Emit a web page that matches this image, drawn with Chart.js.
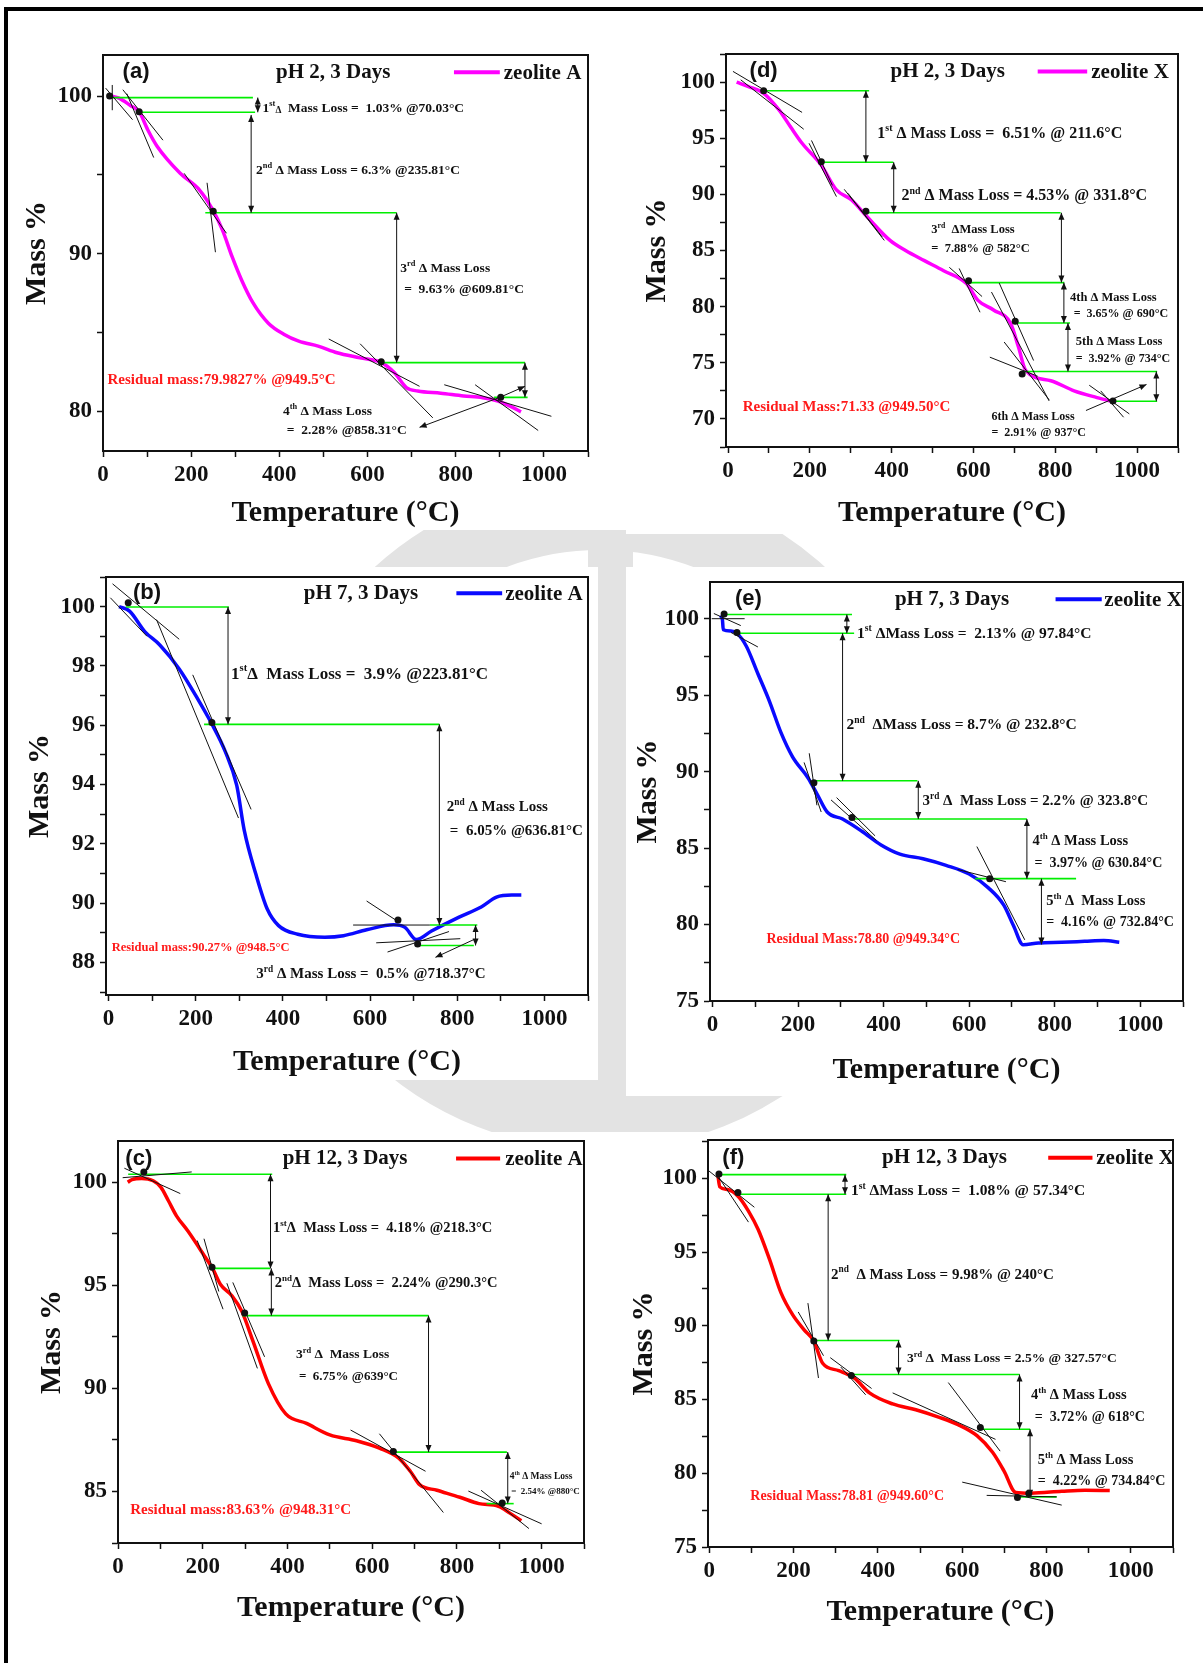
<!DOCTYPE html>
<html>
<head>
<meta charset="utf-8">
<title>TGA curves of zeolite A and X</title>
<script src="https://cdn.jsdelivr.net/npm/chart.js@4.4.1/dist/chart.umd.min.js"></script>
<style>
  body { margin: 0; background: #fff; }
  #page { position: relative; width: 1203px; height: 1663px; background: #fff; overflow: hidden; }
  .abs { position: absolute; }
  .ring { left: 265px; top: 480px; width: 530px; height: 530px; border: 70px solid #e3e3e3; border-radius: 50%; }
  .bar { left: 588px; top: 530px; width: 45px; height: 566px; background: #e3e3e3; }
  .white { background: #fff; }
</style>
</head>
<body>
<div id="page">
  <div class="abs ring"></div>
  <div class="abs bar"></div>
</div>
<script>
// TGA curves: temperature (°C) and mass (%)
const tA2  = [19, 36, 62, 82, 102, 123, 175, 219, 249, 271, 293, 314, 340, 375, 410, 444, 488, 531, 583, 631, 661, 688, 714, 766, 818, 861, 896, 922, 948];
const mA2  = [100.0, 99.87, 99.4, 99.0, 97.83, 96.8, 95.1, 94.04, 92.78, 91.5, 89.8, 88.36, 86.9, 85.6, 84.9, 84.46, 84.15, 83.73, 83.4, 83.1, 82.46, 81.52, 81.3, 81.16, 80.99, 80.88, 80.67, 80.36, 79.98];

const tX2  = [21, 50, 87, 125, 153, 181, 228, 265, 302, 340, 396, 434, 480, 527, 583, 611, 649, 691, 710, 728, 789, 846, 902, 944];
const mX2  = [100.0, 99.6, 99.0, 97.5, 96.0, 94.55, 92.6, 90.4, 89.5, 88.0, 85.9, 85.0, 84.1, 83.2, 82.05, 80.56, 79.7, 78.5, 76.4, 74.3, 73.4, 72.5, 71.9, 71.5];

const tA7  = [24, 48, 83, 118, 162, 206, 237, 268, 294, 311, 338, 364, 390, 434, 496, 539, 592, 654, 680, 706, 741, 803, 855, 890, 925, 947];
const mA7  = [100.0, 99.85, 99.16, 98.7, 97.9, 96.85, 96.04, 95.1, 93.97, 92.47, 90.97, 89.8, 89.24, 88.95, 88.85, 88.9, 89.1, 89.27, 89.18, 88.77, 89.06, 89.52, 89.87, 90.2, 90.27, 90.27];

const tX7  = [18, 23, 25, 43, 57, 79, 106, 133, 160, 187, 223, 245, 268, 304, 349, 394, 438, 492, 546, 600, 645, 681, 704, 726, 762, 816, 870, 915, 951];
const mX7  = [100.2, 99.95, 99.28, 99.2, 99.05, 98.2, 96.4, 94.6, 92.55, 90.97, 89.6, 88.5, 87.36, 86.9, 86.1, 85.2, 84.6, 84.3, 83.87, 83.3, 82.4, 81.27, 79.9, 78.68, 78.79, 78.84, 78.9, 78.95, 78.84];

const tA12 = [23, 33, 56, 83, 101, 119, 138, 165, 201, 224, 242, 269, 292, 319, 355, 396, 445, 500, 563, 617, 662, 690, 712, 753, 807, 852, 898, 925, 952];
const mA12 = [100.0, 100.13, 100.18, 100.07, 99.76, 99.1, 98.37, 97.63, 96.52, 95.78, 95.04, 94.49, 93.75, 92.27, 90.23, 88.76, 88.3, 87.74, 87.46, 87.1, 86.63, 85.98, 85.33, 85.06, 84.72, 84.41, 84.28, 83.95, 83.58];

const tX12 = [20, 25, 43, 70, 93, 116, 143, 170, 198, 225, 248, 269, 307, 344, 380, 435, 490, 544, 590, 635, 672, 699, 727, 763, 836, 891, 950];
const mX12 = [100.3, 99.42, 99.24, 98.74, 97.78, 96.53, 94.5, 92.25, 90.74, 89.73, 88.97, 87.46, 86.96, 86.46, 85.45, 84.7, 84.31, 83.81, 83.3, 82.55, 81.42, 80.16, 78.7, 78.65, 78.78, 78.85, 78.83];

// x-axis ticks (°C)
const tempTicks = [0, 100, 200, 300, 400, 500, 600, 700, 800, 900, 1000, 1100];

// step analysis marks, in data units (°C, mass %)
const annA2 = {
  head: [75, 101.5, 522, 796, 900, 909],
  green: [[19, 340, 99.9], [75, 345, 98.97], [232, 666, 92.6], [631, 957, 83.1], [887, 963, 80.9]],
  span: [[351, 99.9, 98.97], [336, 98.8, 92.6], [666, 92.6, 83.1], [957, 83.1, 80.9]],
  tangent: [[6, 100.5, 67, 98.5], [21, 100.7, 21, 99.1], [54, 100.15, 115, 96.1], [45, 100.4, 136, 97.2],
            [184, 95.1, 280, 91.3], [236, 94.5, 255, 90.1], [512, 84.6, 718, 81.6], [583, 84.3, 748, 79.6],
            [774, 81.7, 1017, 79.7], [844, 81.7, 987, 78.8]],
  dots: [[15, 100.0], [82, 99.0], [250, 92.7], [631, 83.15], [902, 80.9]],
  pointers: [[900, 80.9, 718, 79.0], [900, 80.9, 957, 81.6]],
  notes: [
    [362, 99.3, '1^{st}_{Δ}  Mass Loss =  1.03% @70.03°C', 13.5],
    [347, 95.35, '2^{nd} Δ Mass Loss = 6.3% @235.81°C', 13.5],
    [674, 89.16, '3^{rd} Δ Mass Loss', 13.5],
    [683, 87.8, '=  9.63% @609.81°C', 13.5],
    [408, 80.1, '4^{th} Δ Mass Loss', 13.5],
    [417, 78.9, '=  2.28% @858.31°C', 13.5],
    [10, 82.08, 'Residual mass:79.9827% @949.5°C', 15, '#ff1a1a']
  ]
};

const annX2 = {
  head: [87, 100.95, 537, 757, 878, 888],
  green: [[87, 345, 99.23], [223, 404, 92.86], [331, 813, 88.36], [588, 822, 82.14], [696, 836, 78.54], [724, 1049, 74.23], [944, 1049, 71.58]],
  span: [[337, 99.23, 92.86], [405, 92.86, 88.36], [815, 88.36, 82.14], [821, 82.14, 78.54], [831, 78.54, 74.23], [1047, 74.23, 71.58]],
  tangent: [[12, 100.95, 181, 97.3], [31, 100.2, 185, 95.8], [198, 94.55, 265, 89.8], [204, 94.8, 255, 90.8],
            [284, 90.45, 382, 85.9], [293, 90.1, 377, 86.2], [541, 83.5, 621, 80.9], [565, 83.4, 616, 79.5],
            [663, 82.1, 747, 75.2], [644, 81.3, 785, 71.6], [640, 75.5, 757, 73.8], [675, 76.85, 785, 71.7],
            [883, 73.0, 981, 70.45], [911, 72.5, 967, 70.15]],
  dots: [[87, 99.23], [228, 92.9], [337, 88.5], [588, 82.3], [702, 78.7], [719, 74.0], [941, 71.6]],
  pointers: [[875, 70.75, 1023, 73.07]],
  notes: [
    [365, 95.5, '1^{st} Δ Mass Loss =  6.51% @ 211.6°C', 16],
    [424, 89.94, '2^{nd} Δ Mass Loss = 4.53% @ 331.8°C', 16],
    [497, 86.9, '3^{rd}  ΔMass Loss', 12.5],
    [497, 85.24, '=  7.88% @ 582°C', 12.5],
    [836, 80.86, '4th Δ Mass Loss', 12.5],
    [845, 79.4, '=  3.65% @ 690°C', 12],
    [850, 77.0, '5th Δ Mass Loss', 12.5],
    [850, 75.45, '=  3.92% @ 734°C', 12],
    [644, 70.3, '6th Δ Mass Loss', 12],
    [644, 68.8, '=  2.91% @ 937°C', 12],
    [36, 71.2, 'Residual Mass:71.33 @949.50°C', 15, '#ff1a1a']
  ]
};

const annA7 = {
  head: [88, 100.45, 579, 798, 903, 910],
  green: [[39.5, 276, 99.99], [219, 759, 96.03], [737, 846, 89.26], [715, 838, 88.57]],
  span: [[274, 99.99, 96.03], [759, 96.03, 89.26], [842, 89.26, 88.57]],
  tangent: [[9, 100.77, 162, 98.9], [4, 100.3, 88, 99.0], [110, 99.56, 298, 92.87], [193, 97.7, 327, 93.16],
            [592, 90.07, 667, 89.35], [614, 88.66, 807, 88.8], [640, 88.35, 781, 89.04], [561, 89.26, 737, 89.26]],
  dots: [[45, 100.13], [237, 96.09], [664, 89.43], [709, 88.62]],
  pointers: [[838, 88.77, 750, 88.17]],
  notes: [
    [281, 97.77, '1^{st}Δ  Mass Loss =  3.9% @223.81°C', 17],
    [776, 93.27, '2^{nd} Δ Mass Loss', 15],
    [783, 92.47, '=  6.05% @636.81°C', 15],
    [339, 87.64, '3^{rd} Δ Mass Loss =  0.5% @718.37°C', 15],
    [7, 88.54, 'Residual mass:90.27% @948.5°C', 12.5, '#ff1a1a']
  ]
};

const annX7 = {
  head: [84, 101.28, 560, 802, 910, 916],
  green: [[21, 326, 100.27], [52, 331, 99.05], [236, 479, 89.4], [322, 735, 86.9], [614, 850, 83.0]],
  span: [[314, 100.27, 99.05], [304, 99.05, 89.4], [481, 89.4, 86.9], [735, 86.9, 83.0], [769, 83.0, 78.7]],
  tangent: [[-2, 100, 75, 100], [3, 100.34, 66, 99.55], [43, 99.1, 106, 98.15], [214, 90.6, 254, 87.36],
            [226, 91.2, 244, 87.8], [277, 88.15, 383, 85.5], [290, 88.3, 380, 85.8], [573, 83.6, 686, 82.8],
            [618, 85.1, 730, 79.0]],
  dots: [[27, 100.3], [57, 99.1], [237, 89.28], [326, 87.0], [648, 83.0]],
  pointers: [],
  notes: [
    [338, 99.1, '1^{st} ΔMass Loss =  2.13% @ 97.84°C', 15.5],
    [313, 93.1, '2^{nd}  ΔMass Loss = 8.7% @ 232.8°C', 15.5],
    [491, 88.15, '3^{rd} Δ  Mass Loss = 2.2% @ 323.8°C', 15],
    [748, 85.5, '4^{th} Δ Mass Loss', 14.5],
    [753, 84.1, '=  3.97% @ 630.84°C', 14],
    [780, 81.6, '5^{th} Δ  Mass Loss', 14.5],
    [780, 80.2, '=  4.16% @ 732.84°C', 14],
    [126, 79.13, 'Residual Mass:78.80 @949.34°C', 14, '#ff1a1a']
  ]
};

const annA12 = {
  head: [49, 101.15, 536, 798, 902, 914],
  green: [[24, 364, 100.39], [224, 359, 95.82], [293, 733, 93.53], [649, 918, 86.91], [870, 934, 84.41]],
  span: [[360, 100.39, 95.82], [362, 95.82, 93.53], [733, 93.53, 86.91], [920, 86.91, 84.41]],
  tangent: [[11, 100.22, 174, 100.5], [15, 100.68, 147, 99.45], [187, 97.17, 248, 93.84], [203, 97.26, 238, 94.7],
            [257, 95.1, 329, 90.97], [271, 95.14, 346, 91.53], [549, 87.98, 726, 85.98], [617, 87.8, 768, 83.98],
            [827, 85.02, 1000, 83.43], [857, 85.06, 970, 83.2]],
  dots: [[61, 100.5], [222, 95.88], [299, 93.66], [650, 86.94], [907, 84.44]],
  pointers: [],
  notes: [
    [366, 97.82, '1^{st}Δ  Mass Loss =  4.18% @218.3°C', 14.5],
    [370, 95.14, '2^{nd}Δ  Mass Loss =  2.24% @290.3°C', 14.5],
    [420, 91.68, '3^{rd} Δ  Mass Loss', 13.5],
    [427, 90.6, '=  6.75% @639°C', 13],
    [925, 85.76, '4^{th} Δ Mass Loss', 9.5],
    [928, 85.02, '=  2.54% @880°C', 9],
    [29, 84.13, 'Residual mass:83.63% @948.31°C', 15, '#ff1a1a']
  ]
};

const annX12 = {
  head: [57, 101.4, 558, 804, 909, 918],
  green: [[20, 325, 100.25], [66, 325, 98.92], [248, 451, 89.0], [335, 736, 86.7], [640, 761, 82.98], [731, 824, 78.4]],
  span: [[322, 100.25, 98.92], [282, 98.92, 89.0], [449, 89.0, 86.7], [736, 86.7, 82.98], [761, 82.98, 78.4]],
  tangent: [[-3, 100.55, 107, 98.04], [20, 100.18, 93, 97.03], [234, 91.54, 259, 86.46], [211, 90.94, 271, 87.97],
            [287, 87.84, 385, 85.75], [312, 87.2, 371, 85.32], [435, 85.45, 679, 82.3], [567, 86.15, 690, 81.5],
            [600, 79.4, 836, 77.84], [658, 78.5, 824, 78.4]],
  dots: [[23, 100.3], [68, 99.04], [248, 88.97], [337, 86.63], [643, 83.1], [731, 78.35], [758, 78.65]],
  pointers: [],
  notes: [
    [336, 99.22, '1^{st} ΔMass Loss =  1.08% @ 57.34°C', 15.5],
    [289, 93.55, '2^{nd}  Δ Mass Loss = 9.98% @ 240°C', 15],
    [469, 87.84, '3^{rd} Δ  Mass Loss = 2.5% @ 327.57°C', 13.5],
    [763, 85.37, '4^{th} Δ Mass Loss', 14.5],
    [772, 83.89, '=  3.72% @ 618°C', 14],
    [779, 80.97, '5^{th} Δ Mass Loss', 14.5],
    [779, 79.5, '=  4.22% @ 734.84°C', 14],
    [97.5, 78.52, 'Residual Mass:78.81 @949.60°C', 14, '#ff1a1a']
  ]
};

const SERIF = '"Liberation Serif", "Times New Roman", serif';
const SANS = '"Liberation Sans", Arial, sans-serif';

// plot boxes on the page: [left, top, right, bottom]
const panels = [
  { id: 'a', box: [102.6, 55, 587.5, 451], xr: [0, 1100], yr: [77.5, 102.6], major: 10, minor: 5, yt: 66, xt: 62,
    t: tA2, m: mA2, color: '#ff00ff', label: 'zeolite A', cond: 'pH 2, 3 Days', ann: annA2, bg: [10, 11, 626, 530] },
  { id: 'd', box: [726, 54, 1178, 447], xr: [-5, 1100], yr: [67.5, 102.5], major: 5, minor: 2.5, yt: 69, xt: 66,
    t: tX2, m: mX2, color: '#ff00ff', label: 'zeolite X', cond: 'pH 2, 3 Days', ann: annX2, bg: [626, 11, 1203, 534] },
  { id: 'b', box: [106.4, 577, 588, 995], xr: [-6, 1100], yr: [86.9, 101.0], major: 2, minor: 1, yt: 66, xt: 67,
    t: tA7, m: mA7, color: '#0a0aff', label: 'zeolite A', cond: 'pH 7, 3 Days', ann: annA7, bg: [10, 567, 598, 1080] },
  { id: 'e', box: [709.6, 582, 1182.7, 1000.7], xr: [-6, 1100], yr: [75, 102.4], major: 5, minor: 2.5, yt: 62, xt: 69,
    t: tX7, m: mX7, color: '#0a0aff', label: 'zeolite X', cond: 'pH 7, 3 Days', ann: annX7, bg: [626, 567, 1203, 1096] },
  { id: 'c', box: [117.5, 1140.6, 583.6, 1542.8], xr: [0, 1100], yr: [82.5, 102], major: 5, minor: 2.5, yt: 66, xt: 65,
    t: tA12, m: mA12, color: '#ff0000', label: 'zeolite A', cond: 'pH 12, 3 Days', ann: annA12, bg: [10, 1132, 704, 1663] },
  { id: 'f', box: [707.7, 1139.5, 1173, 1546.5], xr: [-3, 1100], yr: [75, 102.6], major: 5, minor: 2.5, yt: 64, xt: 65,
    t: tX12, m: mX12, color: '#ff0000', label: 'zeolite X', cond: 'pH 12, 3 Days', ann: annX12, bg: [704, 1132, 1203, 1663] }
];

function line(ctx, x1, y1, x2, y2) {
  ctx.beginPath(); ctx.moveTo(x1, y1); ctx.lineTo(x2, y2); ctx.stroke();
}

function head(ctx, x1, y1, x2, y2) {
  const a = Math.atan2(y2 - y1, x2 - x1), len = 7, w = 3;
  ctx.beginPath();
  ctx.moveTo(x2, y2);
  ctx.lineTo(x2 - len * Math.cos(a) + w * Math.sin(a), y2 - len * Math.sin(a) - w * Math.cos(a));
  ctx.lineTo(x2 - len * Math.cos(a) - w * Math.sin(a), y2 - len * Math.sin(a) + w * Math.cos(a));
  ctx.closePath(); ctx.fill();
}

// text with ^{sup} and _{small} parts
function drawRich(ctx, text, x, y, size, color) {
  const segs = text.split(/(\^\{[^}]*\}|_\{[^}]*\})/).filter(s => s);
  const base = y + size * 0.34;
  let cx = x;
  ctx.fillStyle = color;
  ctx.textAlign = 'left';
  ctx.textBaseline = 'alphabetic';
  segs.forEach(s => {
    let t = s, fs = size, by = base;
    if (s.startsWith('^{')) { t = s.slice(2, -1); fs = size * 0.62; by = base - size * 0.42; }
    else if (s.startsWith('_{')) { t = s.slice(2, -1); fs = size * 0.7; by = base + size * 0.12; }
    ctx.font = 'bold ' + fs + 'px ' + SERIF;
    ctx.fillText(t, cx, by);
    cx += ctx.measureText(t).width;
  });
}

function annPlugin(p) {
  return {
    id: 'steps' + p.id,
    afterDatasetsDraw(chart) {
      const ctx = chart.ctx, xs = chart.scales.x, ys = chart.scales.y;
      const X = v => xs.getPixelForValue(v), Y = v => ys.getPixelForValue(v);
      const a = p.ann;
      ctx.save();
      ctx.lineCap = 'butt';

      ctx.strokeStyle = '#00ee00';
      ctx.lineWidth = 1.6;
      a.green.forEach(([x1, x2, y]) => line(ctx, X(x1), Y(y), X(x2), Y(y)));

      ctx.strokeStyle = '#111';
      ctx.fillStyle = '#111';
      ctx.lineWidth = 1;
      a.tangent.forEach(([x1, y1, x2, y2]) => line(ctx, X(x1), Y(y1), X(x2), Y(y2)));
      a.span.forEach(([x, y1, y2]) => {
        line(ctx, X(x), Y(y1), X(x), Y(y2));
        head(ctx, X(x), Y(y2), X(x), Y(y1));
        head(ctx, X(x), Y(y1), X(x), Y(y2));
      });
      a.pointers.forEach(([x1, y1, x2, y2]) => {
        line(ctx, X(x1), Y(y1), X(x2), Y(y2));
        head(ctx, X(x1), Y(y1), X(x2), Y(y2));
      });
      a.dots.forEach(([x, y]) => {
        ctx.beginPath(); ctx.arc(X(x), Y(y), 3.5, 0, Math.PI * 2); ctx.fill();
      });

      a.notes.forEach(n => drawRich(ctx, n[2], X(n[0]), Y(n[1]), n[3], n[4] || '#111'));

      // panel letter, condition and legend
      const [lx, hy, cx, l1, l2, tx] = a.head;
      ctx.fillStyle = '#111';
      ctx.textBaseline = 'middle';
      ctx.textAlign = 'center';
      ctx.font = 'bold 22px ' + SANS;
      ctx.fillText('(' + p.id + ')', X(lx), Y(hy));
      ctx.font = 'bold 21px ' + SERIF;
      ctx.fillText(p.cond, X(cx), Y(hy));
      ctx.textAlign = 'left';
      ctx.fillText(p.label, X(tx), Y(hy) + 1);
      ctx.strokeStyle = p.color;
      ctx.lineWidth = 4;
      line(ctx, X(l1), Y(hy), X(l2), Y(hy));

      // plot frame
      const ca = chart.chartArea;
      ctx.strokeStyle = '#111';
      ctx.lineWidth = 2;
      ctx.strokeRect(ca.left, ca.top, ca.right - ca.left, ca.bottom - ca.top);
      ctx.restore();
    }
  };
}

function steps(from, to, step) {
  const out = [];
  const start = Math.ceil(from / step - 1e-9) * step;
  for (let v = start; v <= to + 1e-9; v += step) out.push(Math.round(v * 1000) / 1000);
  return out;
}

const page = document.getElementById('page');

panels.forEach(p => {
  const [bl, bt, br, bb] = p.bg;
  const w = document.createElement('div');
  w.className = 'abs white';
  w.style.cssText = `left:${bl}px;top:${bt}px;width:${br - bl}px;height:${bb - bt}px`;
  page.appendChild(w);
});

// outer frame (top and left edges only)
const ft = document.createElement('div');
ft.className = 'abs';
ft.style.cssText = 'left:4px;top:7px;width:1199px;height:4px;background:#000';
page.appendChild(ft);
const fl = document.createElement('div');
fl.className = 'abs';
fl.style.cssText = 'left:4px;top:7px;width:4px;height:1656px;background:#000';
page.appendChild(fl);

const tickFont = { family: SERIF, size: 23, weight: 'bold' };
const titleFont = { family: SERIF, size: 30, weight: 'bold', lineHeight: 1 };
const isMajor = (v, step) => Math.abs(v / step - Math.round(v / step)) < 1e-6;

panels.forEach(p => {
  const [L, T, R, B] = p.box;
  const W = Math.round(R - L) + 110, H = Math.round(B - T) + 110;
  const c = document.createElement('canvas');
  c.width = W; c.height = H;
  c.className = 'abs';
  c.style.cssText = `left:${Math.round(L) - 100}px;top:${Math.round(T) - 10}px;width:${W}px;height:${H}px`;
  page.appendChild(c);

  const yTicks = steps(p.yr[0], p.yr[1], p.minor);

  const chart = new Chart(c, {
    type: 'line',
    data: {
      datasets: [{
        label: p.label,
        data: p.t.map((t, i) => ({ x: t, y: p.m[i] })),
        borderColor: p.color,
        borderWidth: 3.5,
        pointRadius: 0,
        cubicInterpolationMode: 'monotone',
        fill: false
      }]
    },
    options: {
      responsive: false,
      maintainAspectRatio: false,
      animation: false,
      events: [],
      layout: { padding: { top: 10, right: 10, left: 0, bottom: 0 } },
      plugins: { legend: { display: false }, tooltip: { enabled: false } },
      scales: {
        x: {
          type: 'linear',
          min: p.xr[0],
          max: p.xr[1],
          afterFit: s => { s.height = 100; s.paddingLeft = 0; s.paddingRight = 0; },
          afterBuildTicks: s => { s.ticks = tempTicks.filter(v => v >= p.xr[0] && v <= p.xr[1]).map(v => ({ value: v })); },
          ticks: {
            autoSkip: false, maxRotation: 0, padding: 4, color: '#111', font: tickFont,
            callback: v => (isMajor(v, 200) ? String(v) : '')
          },
          grid: { drawOnChartArea: false, drawTicks: true, tickLength: 6, tickWidth: 1.5, tickColor: '#111' },
          border: { display: true, color: '#111', width: 2 },
          title: { display: true, text: 'Temperature (°C)', color: '#111', font: titleFont, padding: { top: 0, bottom: 85 - p.xt } }
        },
        y: {
          min: p.yr[0],
          max: p.yr[1],
          afterFit: s => { s.width = 100; s.paddingTop = 0; s.paddingBottom = 0; },
          afterBuildTicks: s => { s.ticks = yTicks.map(v => ({ value: v })); },
          ticks: {
            autoSkip: false, padding: 5, color: '#111', font: tickFont,
            callback: v => (isMajor(v, p.major) ? String(v) : '')
          },
          grid: { drawOnChartArea: false, drawTicks: true, tickLength: 6, tickWidth: 1.5, tickColor: '#111' },
          border: { display: true, color: '#111', width: 2 },
          title: { display: true, text: 'Mass %', color: '#111', font: titleFont, padding: { top: 85 - p.yt, bottom: 0 } }
        }
      }
    },
    plugins: [annPlugin(p)]
  });

  // keep the plot box where it sits in the reference
  const ca = chart.chartArea;
  c.style.left = (L - ca.left) + 'px';
  c.style.top = (T - ca.top) + 'px';
});
</script>
</body>
</html>
